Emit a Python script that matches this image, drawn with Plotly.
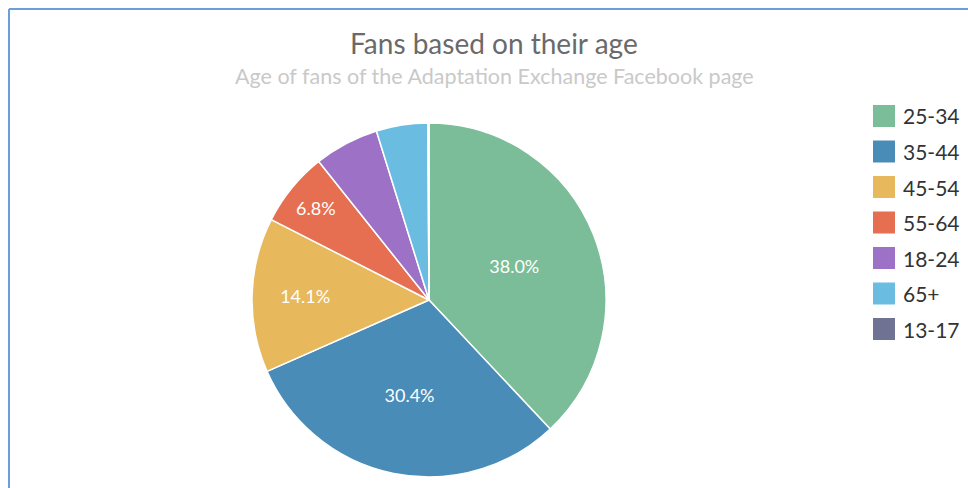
import plotly.graph_objects as go

labels = ["25-34", "35-44", "45-54", "55-64", "18-24", "65+", "13-17"]
values = [38.0, 30.4, 14.1, 6.8, 5.9, 4.7, 0.1]
colors = ["#7bbd98", "#488cb7", "#e8b95c", "#e56f50", "#9d71c5", "#6abde1", "#6f7292"]
title_text = "Fans based on their age"
subtitle_text = "Age of fans of the Adaptation Exchange Facebook page"

W, H = 968, 488
FONT = "Lato, 'Open Sans', sans-serif"

slice_text = [f"{v:.1f}%" if v >= 6.5 else "" for v in values]

fig = go.Figure(go.Pie(
    labels=labels,
    values=values,
    sort=False,
    direction="clockwise",
    rotation=0,
    marker=dict(colors=colors, line=dict(color="white", width=1.5)),
    text=slice_text,
    textinfo="text",
    textposition="inside",
    insidetextorientation="horizontal",
    insidetextfont=dict(color="white", size=18, family=FONT),
    hoverinfo="label+percent",
    showlegend=False,
    domain=dict(x=[252 / W, 606 / W], y=[1 - 477 / H, 1 - 123 / H]),
))

shapes = [
    dict(type="line", xref="paper", yref="paper", x0=9 / W, x1=9 / W, y0=-0.1, y1=1 - 9 / H,
         line=dict(color="#6a9fdc", width=2)),
    dict(type="line", xref="paper", yref="paper", x0=9 / W, x1=1.1, y0=1 - 9 / H, y1=1 - 9 / H,
         line=dict(color="#6a9fdc", width=2)),
]
annotations = [
    dict(text=title_text, x=494 / W, y=1 - 43 / H, xref="paper", yref="paper",
         xanchor="center", yanchor="middle", showarrow=False,
         font=dict(size=28, color="#6a6a6a", family=FONT)),
    dict(text=subtitle_text, x=494 / W, y=1 - 76 / H, xref="paper", yref="paper",
         xanchor="center", yanchor="middle", showarrow=False,
         font=dict(size=21.5, color="#c9c9c9", family=FONT)),
]

row0, step = 116, 35.5
for i, (lab, col) in enumerate(zip(labels, colors)):
    cy = row0 + i * step
    shapes.append(dict(type="rect", xref="paper", yref="paper",
                       x0=873 / W, x1=895 / W, y0=1 - (cy + 11) / H, y1=1 - (cy - 11) / H,
                       fillcolor=col, line=dict(width=0)))
    annotations.append(dict(text=lab, x=901 / W, y=1 - cy / H, xref="paper", yref="paper",
                            xanchor="left", yanchor="middle", showarrow=False,
                            font=dict(size=21, color="#333333", family=FONT)))

fig.update_layout(
    width=W, height=H,
    margin=dict(l=0, r=0, t=0, b=0),
    paper_bgcolor="white",
    plot_bgcolor="white",
    shapes=shapes,
    annotations=annotations,
    font=dict(family=FONT),
)

fig.write_html("out.html", config={"displayModeBar": False},
               post_script="document.body.style.margin='0';document.body.style.overflow='hidden';")
